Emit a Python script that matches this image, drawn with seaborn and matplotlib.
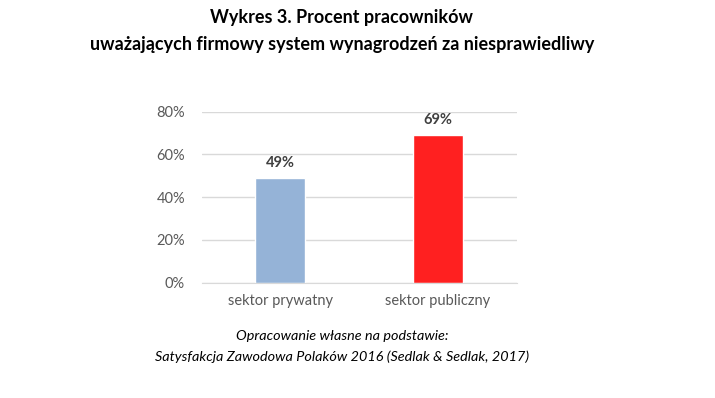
import matplotlib
matplotlib.use("Agg")
import matplotlib.pyplot as plt
import seaborn as sns
import pandas as pd
from matplotlib.ticker import FuncFormatter

categories = ["sektor prywatny", "sektor publiczny"]
values = [49, 69]
bar_colors = ["#95B3D7", "#FF2020"]
title_lines = ["Wykres 3. Procent pracowników",
               "uważających firmowy system wynagrodzeń za niesprawiedliwy"]
source_lines = ["Opracowanie własne na podstawie:",
                "Satysfakcja Zawodowa Polaków 2016 (Sedlak & Sedlak, 2017)"]

sns.set_style("white")
plt.rcParams["font.family"] = ["Lato", "DejaVu Sans"]

df = pd.DataFrame({"sektor": categories, "procent": values})

fig = plt.figure(figsize=(7.15, 3.98), dpi=100)
ax = fig.add_axes([0.282, 0.2897, 0.4406, 0.4296])

sns.barplot(data=df, x="sektor", y="procent", hue="sektor", palette=bar_colors,
            width=0.317, saturation=1, legend=False, ax=ax)

ax.set_ylim(0, 80)
ax.set_xlim(-0.5, 1.5)
ax.set_yticks([0, 20, 40, 60, 80])
ax.yaxis.set_major_formatter(FuncFormatter(lambda v, p: f"{v:.0f}%"))
ax.grid(axis="y", color="#D9D9D9", linewidth=1)
ax.set_axisbelow(True)
sns.despine(ax=ax, left=True)
ax.spines["bottom"].set_color("#D9D9D9")
ax.tick_params(axis="both", length=0, labelsize=10.5, labelcolor="#595959")
ax.tick_params(axis="y", pad=12)
ax.tick_params(axis="x", pad=8)
ax.set_xlabel("")
ax.set_ylabel("")

for c in ax.containers:
    ax.bar_label(c, labels=[f"{v:.0f}%" for v in c.datavalues], padding=6,
                 fontsize=10.5, fontweight="bold", color="#404040")

fig.text(0.478, 0.955, title_lines[0], ha="center", va="center",
         fontsize=13, fontweight="bold", color="#000000")
fig.text(0.478, 0.887, title_lines[1], ha="center", va="center",
         fontsize=13, fontweight="bold", color="#000000")
fig.text(0.478, 0.155, source_lines[0], ha="center", va="center",
         fontsize=10.4, style="italic", color="#000000")
fig.text(0.478, 0.103, source_lines[1], ha="center", va="center",
         fontsize=10.4, style="italic", color="#000000")

fig.savefig("out.png", dpi=100)
